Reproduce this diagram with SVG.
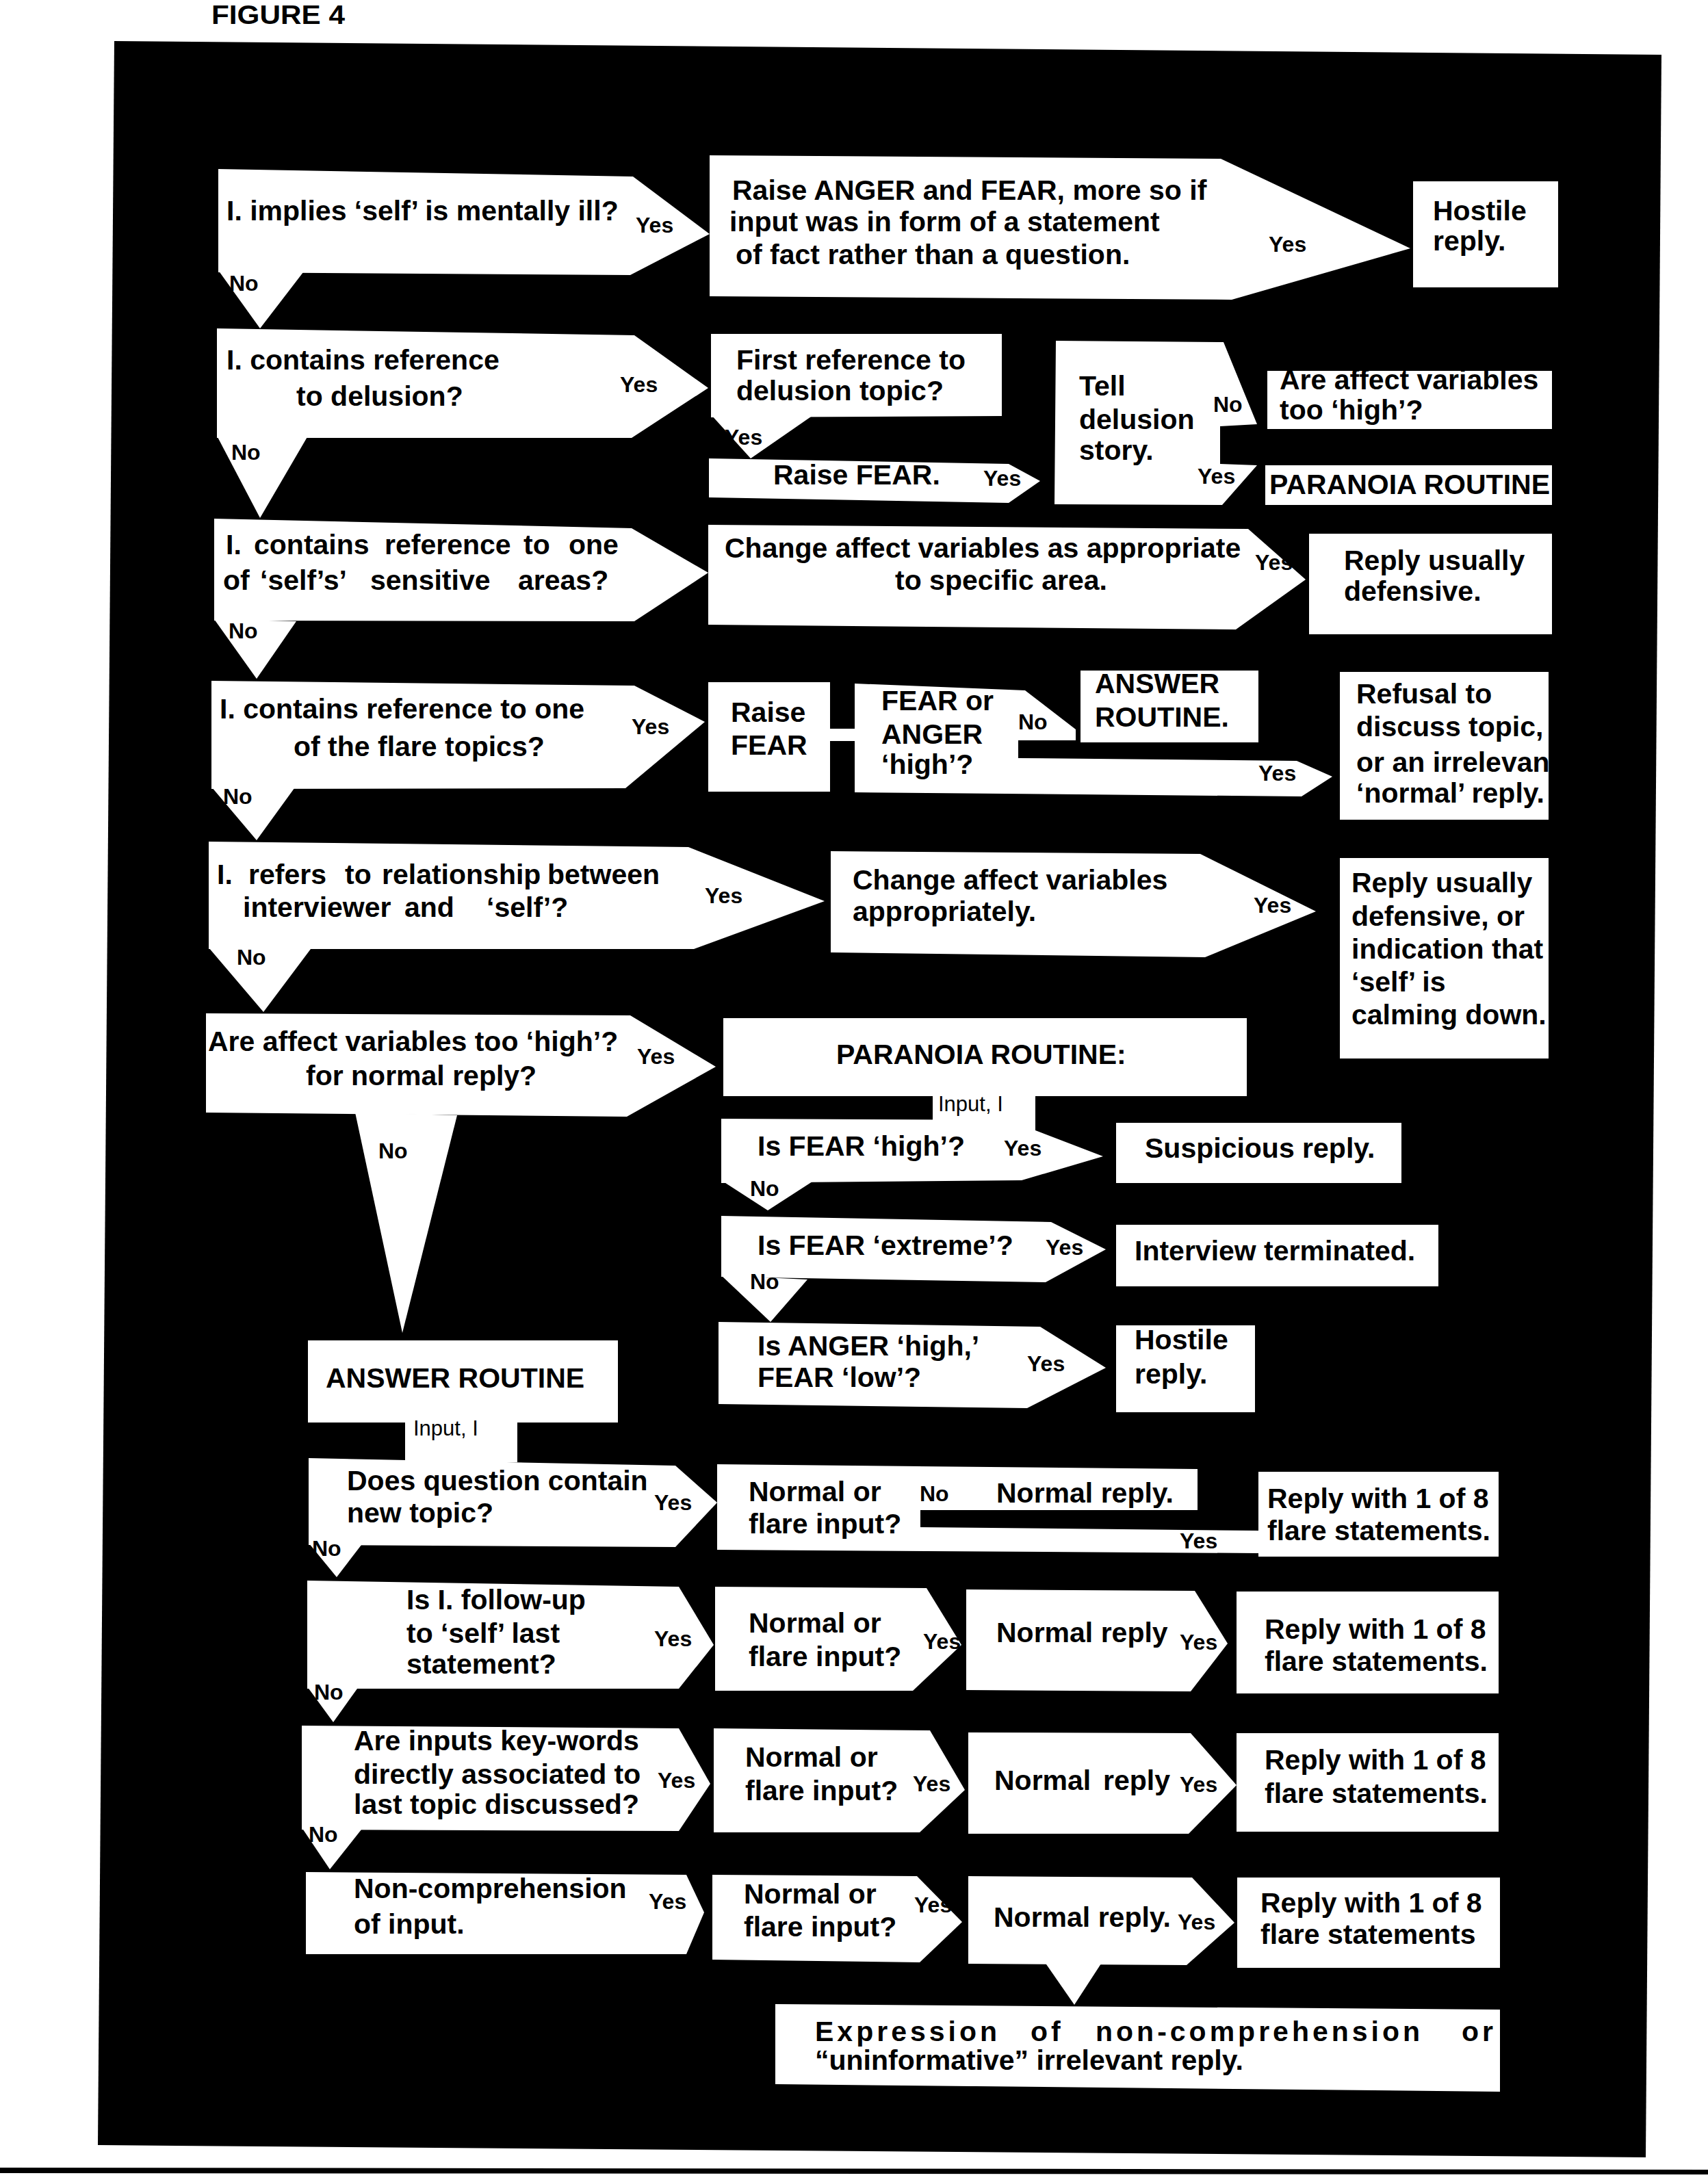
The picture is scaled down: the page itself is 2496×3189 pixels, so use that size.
<svg xmlns="http://www.w3.org/2000/svg" width="2496" height="3189" viewBox="0 0 2496 3189">
<style>
.n{fill:#fff}
text{font-family:"Liberation Sans",Arial,Helvetica,sans-serif;font-weight:bold;fill:#000}
.t{font-size:41px}
.l{font-size:32px}
.s{font-size:31px;font-weight:normal}
.ls{letter-spacing:5px}
</style>
<rect x="0" y="0" width="2496" height="3189" fill="#fff"/>
<text x="309" y="35" style="font-size:38px" textLength="195" lengthAdjust="spacingAndGlyphs">FIGURE 4</text>
<polygon points="167,60 2428,80 2405,3153 143,3135" fill="#000"/>
<polygon points="0,3168 2496,3171 2496,3178 0,3176" fill="#000"/>

<g id="connectors" class="n">
<polygon points="319,395 443,398 380,480"/>
<polygon points="317,637 450,637 380,757"/>
<polygon points="1039,606 1188,607 1097,670"/>
<polygon points="313,905 433,908 375,992"/>
<polygon points="309,1150 433,1148 375,1228"/>
<rect x="1210" y="1065" width="42" height="18"/>
<polygon points="305,1385 454,1387 385,1479"/>
<polygon points="519,1626 668,1630 588,1948"/>
<rect x="1363" y="1598" width="150" height="42"/>
<polygon points="1054,1725 1187,1727 1122,1769"/>
<polygon points="1054,1864 1180,1870 1126,1932"/>
<rect x="592" y="2075" width="164" height="62"/>
<polygon points="451,2255 528,2258 492,2305"/>
<polygon points="449,2465 522,2468 487,2517"/>
<polygon points="441,2671 528,2674 482,2732"/>
<polygon points="1527,2868 1609,2870 1570,2930"/>
</g>

<g id="n-implies-ill">
<path class="n" d="M319,247 L925,258 L1037,342 L921,402 L319,398 Z"/>
<text class="t" x="331" y="322">I. implies ‘self’ is mentally ill?</text>
</g>
<g id="n-raise-anger-fear">
<path class="n" d="M1037,227 L1784,232 L2061,363 L1800,438 L1037,433 Z"/>
<text class="t" x="1070" y="292">Raise ANGER and FEAR, more so if</text>
<text class="t" x="1066" y="338">input was  in form of a statement</text>
<text class="t" x="1075" y="386">of fact rather than a question.</text>
</g>
<g id="n-hostile-1">
<rect class="n" x="2065" y="265" width="212" height="155"/>
<text class="t" x="2094" y="322">Hostile</text>
<text class="t" x="2094" y="366">reply.</text>
</g>

<g id="n-delusion-ref">
<path class="n" d="M317,480 L927,490 L1035,567 L923,640 L317,640 Z"/>
<text class="t" x="331" y="540">I. contains reference</text>
<text class="t" x="433" y="593">to delusion?</text>
</g>
<g id="n-first-ref">
<path class="n" d="M1039,488 L1464,488 L1464,608 L1039,610 Z"/>
<text class="t" x="1076" y="540">First reference to</text>
<text class="t" x="1076" y="585">delusion topic?</text>
</g>
<g id="n-raise-fear-1">
<path class="n" d="M1036,670 L1474,678 L1520,703 L1474,735 L1036,727 Z"/>
<text class="t" x="1130" y="708">Raise FEAR.</text>
</g>
<g id="n-tell-delusion">
<path class="n" d="M1543,498 L1788,500 L1837,620 L1783,623 L1783,678 L1837,680 L1786,738 L1541,737 Z"/>
<text class="t" x="1577" y="578">Tell</text>
<text class="t" x="1577" y="627">delusion</text>
<text class="t" x="1577" y="672">story.</text>
</g>
<g id="n-affect-high-1">
<rect class="n" x="1852" y="542" width="416" height="85"/>
<text class="t" x="1870" y="569">Are affect variables</text>
<text class="t" x="1870" y="613">too ‘high’?</text>
</g>
<g id="n-paranoia-1">
<rect class="n" x="1849" y="680" width="419" height="58"/>
<text class="t" x="1855" y="722">PARANOIA ROUTINE</text>
</g>

<g id="n-sensitive">
<path class="n" d="M313,758 L923,772 L1035,837 L927,908 L313,907 Z"/>
<text class="t" y="810"><tspan x="330">I.</tspan><tspan x="371">contains</tspan><tspan x="562">reference</tspan><tspan x="765">to</tspan><tspan x="831">one</tspan></text>
<text class="t" y="862"><tspan x="326">of</tspan><tspan x="380">‘self’s’</tspan><tspan x="541">sensitive</tspan><tspan x="757">areas?</tspan></text>
</g>
<g id="n-change-area">
<path class="n" d="M1035,767 L1824,773 L1908,847 L1806,920 L1035,913 Z"/>
<text class="t" x="1059" y="815">Change affect variables  as appropriate</text>
<text class="t" x="1308" y="862">to  specific area.</text>
</g>
<g id="n-defensive-1">
<rect class="n" x="1913" y="780" width="355" height="147"/>
<text class="t" x="1964" y="833">Reply usually</text>
<text class="t" x="1964" y="878">defensive.</text>
</g>

<g id="n-flare-topics">
<path class="n" d="M309,995 L927,1002 L1030,1055 L914,1152 L309,1153 Z"/>
<text class="t" x="321" y="1050">I. contains reference to one</text>
<text class="t" x="429" y="1105">of the flare topics?</text>
</g>
<g id="n-raise-fear-2">
<rect class="n" x="1035" y="997" width="178" height="160"/>
<text class="t" x="1068" y="1055">Raise</text>
<text class="t" x="1068" y="1103">FEAR</text>
</g>
<g id="n-fear-anger-high">
<path class="n" d="M1249,999 L1498,1009 L1572,1066 L1572,1082 L1488,1082 L1488,1108 L1895,1112 L1947,1135 L1902,1164 L1249,1158 Z"/>
<text class="t" x="1288" y="1038">FEAR or</text>
<text class="t" x="1288" y="1087">ANGER</text>
<text class="t" x="1288" y="1131">‘high’?</text>
</g>
<g id="n-answer-1">
<rect class="n" x="1579" y="980" width="260" height="105"/>
<text class="t" x="1600" y="1013">ANSWER</text>
<text class="t" x="1600" y="1062">ROUTINE.</text>
</g>
<g id="n-refusal">
<rect class="n" x="1958" y="982" width="305" height="216"/>
<text class="t" x="1982" y="1028">Refusal to</text>
<text class="t" x="1982" y="1076">discuss topic,</text>
<text class="t" x="1982" y="1128">or an irrelevan</text>
<text class="t" x="1982" y="1173">‘normal’ reply.</text>
</g>

<g id="n-relationship">
<path class="n" d="M305,1230 L1006,1238 L1205,1317 L1014,1387 L305,1387 Z"/>
<text class="t" y="1292"><tspan x="317">I.</tspan><tspan x="363">refers</tspan><tspan x="504">to</tspan><tspan x="558">relationship</tspan><tspan x="800">between</tspan></text>
<text class="t" y="1340"><tspan x="355">interviewer</tspan><tspan x="591">and</tspan><tspan x="711">‘self’?</tspan></text>
</g>
<g id="n-change-approp">
<path class="n" d="M1214,1244 L1754,1248 L1923,1332 L1761,1399 L1214,1392 Z"/>
<text class="t" x="1246" y="1300">Change affect variables</text>
<text class="t" x="1246" y="1346">appropriately.</text>
</g>
<g id="n-defensive-2">
<rect class="n" x="1958" y="1254" width="305" height="293"/>
<text class="t" x="1975" y="1304">Reply usually</text>
<text class="t" x="1975" y="1353">defensive, or</text>
<text class="t" x="1975" y="1401">indication that</text>
<text class="t" x="1975" y="1449">‘self’ is</text>
<text class="t" x="1975" y="1497">calming down.</text>
</g>

<g id="n-affect-high-2">
<path class="n" d="M301,1481 L921,1484 L1046,1559 L916,1632 L301,1626 Z"/>
<text class="t" x="304" y="1536">Are affect variables  too ‘high’?</text>
<text class="t" x="447" y="1586">for normal reply?</text>
</g>
<g id="n-paranoia-routine">
<rect class="n" x="1057" y="1488" width="765" height="114"/>
<text class="t" x="1222" y="1555">PARANOIA ROUTINE:</text>
</g>
<g id="n-fear-high">
<path class="n" d="M1054,1635 L1513,1637 L1513,1652 L1612,1690 L1493,1725 L1054,1729 Z"/>
<text class="t" x="1107" y="1689">Is FEAR ‘high’?</text>
</g>
<g id="n-suspicious">
<rect class="n" x="1631" y="1641" width="417" height="88"/>
<text class="t" x="1673" y="1692">Suspicious reply.</text>
</g>
<g id="n-fear-extreme">
<path class="n" d="M1054,1777 L1536,1786 L1616,1826 L1528,1874 L1054,1866 Z"/>
<text class="t" x="1107" y="1834">Is FEAR ‘extreme’?</text>
</g>
<g id="n-terminated">
<rect class="n" x="1631" y="1790" width="471" height="90"/>
<text class="t" x="1658" y="1842">Interview terminated.</text>
</g>
<g id="n-anger-high">
<path class="n" d="M1050,1932 L1520,1939 L1616,1999 L1501,2058 L1050,2052 Z"/>
<text class="t" x="1107" y="1981">Is ANGER ‘high,’</text>
<text class="t" x="1107" y="2027">FEAR ‘low’?</text>
</g>
<g id="n-hostile-2">
<rect class="n" x="1631" y="1937" width="203" height="127"/>
<text class="t" x="1658" y="1972">Hostile</text>
<text class="t" x="1658" y="2022">reply.</text>
</g>

<g id="n-answer-routine">
<rect class="n" x="450" y="1959" width="453" height="120"/>
<text class="t" x="476" y="2028">ANSWER ROUTINE</text>
</g>
<g id="n-new-topic">
<path class="n" d="M451,2131 L987,2142 L1048,2196 L987,2261 L451,2258 Z"/>
<text class="t" x="507" y="2178">Does question contain</text>
<text class="t" x="507" y="2225">new topic?</text>
</g>
<g id="n-normal-flare-1">
<path class="n" d="M1048,2140 L1345,2143 L1345,2232 L1839,2237 L1839,2270 L1048,2265 Z"/>
<text class="t" x="1094" y="2194">Normal or</text>
<text class="t" x="1094" y="2241">flare input?</text>
</g>
<g id="n-normal-reply-1">
<path class="n" d="M1340,2143 L1750,2147 L1750,2207 L1340,2207 Z"/>
<text class="t" x="1456" y="2196">Normal reply.</text>
</g>
<g id="n-flare-stmt-1">
<rect class="n" x="1839" y="2151" width="351" height="124"/>
<text class="t" x="1852" y="2204">Reply with 1 of 8</text>
<text class="t" x="1852" y="2251">flare statements.</text>
</g>

<g id="n-follow-up">
<path class="n" d="M449,2310 L992,2319 L1043,2404 L992,2468 L449,2468 Z"/>
<text class="t" x="594" y="2352">Is I. follow-up</text>
<text class="t" x="594" y="2401">to ‘self’ last</text>
<text class="t" x="594" y="2446">statement?</text>
</g>
<g id="n-normal-flare-2">
<path class="n" d="M1045,2319 L1354,2321 L1405,2404 L1334,2471 L1045,2471 Z"/>
<text class="t" x="1094" y="2386">Normal or</text>
<text class="t" x="1094" y="2435">flare input?</text>
</g>
<g id="n-normal-reply-2">
<path class="n" d="M1412,2323 L1746,2325 L1794,2402 L1740,2472 L1412,2470 Z"/>
<text class="t" x="1456" y="2400">Normal reply</text>
</g>
<g id="n-flare-stmt-2">
<rect class="n" x="1807" y="2326" width="383" height="149"/>
<text class="t" x="1848" y="2395">Reply with 1 of 8</text>
<text class="t" x="1848" y="2442">flare statements.</text>
</g>

<g id="n-key-words">
<path class="n" d="M441,2522 L992,2526 L1038,2607 L992,2676 L441,2674 Z"/>
<text class="t" x="517" y="2558">Are inputs key-words</text>
<text class="t" x="517" y="2607">directly associated to</text>
<text class="t" x="517" y="2651">last topic discussed?</text>
</g>
<g id="n-normal-flare-3">
<path class="n" d="M1043,2526 L1359,2529 L1410,2616 L1344,2678 L1043,2678 Z"/>
<text class="t" x="1089" y="2582">Normal or</text>
<text class="t" x="1089" y="2631">flare input?</text>
</g>
<g id="n-normal-reply-3">
<path class="n" d="M1415,2532 L1740,2533 L1807,2609 L1737,2680 L1415,2680 Z"/>
<text class="t" y="2616"><tspan x="1453">Normal</tspan><tspan x="1612">reply</tspan></text>
</g>
<g id="n-flare-stmt-3">
<rect class="n" x="1807" y="2533" width="383" height="144"/>
<text class="t" x="1848" y="2586">Reply with 1 of 8</text>
<text class="t" x="1848" y="2635">flare statements.</text>
</g>

<g id="n-non-comp">
<path class="n" d="M447,2736 L1003,2740 L1029,2795 L1003,2856 L447,2856 Z"/>
<text class="t" x="517" y="2774">Non-comprehension</text>
<text class="t" x="517" y="2826">of input.</text>
</g>
<g id="n-normal-flare-4">
<path class="n" d="M1041,2740 L1340,2742 L1406,2809 L1344,2868 L1041,2864 Z"/>
<text class="t" x="1087" y="2782">Normal or</text>
<text class="t" x="1087" y="2830">flare input?</text>
</g>
<g id="n-normal-reply-4">
<path class="n" d="M1415,2742 L1742,2744 L1804,2810 L1734,2872 L1415,2870 Z"/>
<text class="t" x="1452" y="2816">Normal reply.</text>
</g>
<g id="n-flare-stmt-4">
<rect class="n" x="1808" y="2744" width="384" height="132"/>
<text class="t" x="1842" y="2795">Reply with 1 of 8</text>
<text class="t" x="1842" y="2841">flare statements</text>
</g>
<g id="n-expression">
<path class="n" d="M1133,2929 L2192,2937 L2192,3057 L1133,3046 Z"/>
<text class="t ls" y="2983"><tspan x="1191">Expression</tspan><tspan x="1506">of</tspan><tspan x="1601">non-comprehension</tspan><tspan x="2136">or</tspan></text>
<text class="t" x="1191" y="3025">“uninformative” irrelevant reply.</text>
</g>

<g id="connector-labels">
<text class="l" x="929" y="340">Yes</text><text class="l" x="335" y="425">No</text>
<text class="l" x="1854" y="368">Yes</text>
<text class="l" x="906" y="573">Yes</text><text class="l" x="338" y="672">No</text>
<text class="l" x="1059" y="650">Yes</text>
<text class="l" x="1437" y="710">Yes</text>
<text class="l" x="1773" y="602">No</text><text class="l" x="1750" y="707">Yes</text>
<text class="l" x="1834" y="833">Yes</text>
<text class="l" x="334" y="933">No</text>
<text class="l" x="923" y="1073">Yes</text><text class="l" x="326" y="1175">No</text>
<text class="l" x="1488" y="1066">No</text><text class="l" x="1839" y="1141">Yes</text>
<text class="l" x="1030" y="1320">Yes</text><text class="l" x="346" y="1410">No</text>
<text class="l" x="1832" y="1334">Yes</text>
<text class="l" x="931" y="1555">Yes</text><text class="l" x="553" y="1693">No</text>
<text class="s" x="1371" y="1624">Input, I</text>
<text class="l" x="1467" y="1689">Yes</text><text class="l" x="1096" y="1748">No</text>
<text class="l" x="1528" y="1834">Yes</text><text class="l" x="1096" y="1884">No</text>
<text class="l" x="1501" y="2004">Yes</text>
<text class="s" x="604" y="2098">Input, I</text>
<text class="l" x="956" y="2207">Yes</text><text class="l" x="456" y="2274">No</text>
<text class="l" x="1344" y="2194">No</text><text class="l" x="1724" y="2263">Yes</text>
<text class="l" x="956" y="2406">Yes</text><text class="l" x="459" y="2484">No</text>
<text class="l" x="1349" y="2410">Yes</text>
<text class="l" x="1724" y="2411">Yes</text>
<text class="l" x="961" y="2613">Yes</text><text class="l" x="451" y="2692">No</text>
<text class="l" x="1334" y="2618">Yes</text>
<text class="l" x="1724" y="2619">Yes</text>
<text class="l" x="948" y="2790">Yes</text>
<text class="l" x="1336" y="2795">Yes</text>
<text class="l" x="1721" y="2820">Yes</text>
</g>
</svg>
